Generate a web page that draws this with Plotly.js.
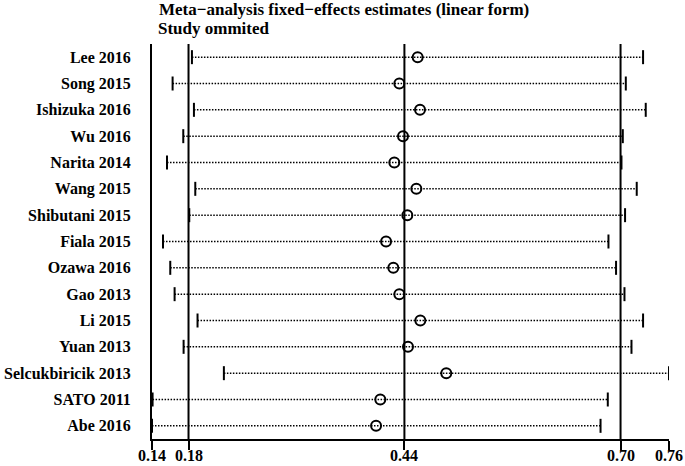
<!DOCTYPE html>
<html>
<head>
<meta charset="utf-8">
<script src="https://cdn.plot.ly/plotly-3.0.1.min.js"></script>
<style>
  html, body { margin: 0; padding: 0; background: #fff; }
  #chart { width: 685px; height: 466px; }
</style>
</head>
<body>
<div id="chart"></div>
<script>
// Study omitted in each row
const studies = ["Lee 2016", "Song 2015", "Ishizuka 2016", "Wu 2016", "Narita 2014",
  "Wang 2015", "Shibutani 2015", "Fiala 2015", "Ozawa 2016", "Gao 2013",
  "Li 2015", "Yuan 2013", "Selcukbiricik 2013", "SATO 2011", "Abe 2016"];

// pooled estimate and CI with that study left out
const estimate = [0.4586, 0.4366, 0.4614, 0.4410, 0.4306, 0.4570, 0.4462, 0.4207,
  0.4294, 0.4366, 0.4618, 0.4470, 0.4929, 0.4138, 0.4087];
const lower = [0.1879, 0.1647, 0.1903, 0.1775, 0.1580, 0.1919, 0.1847, 0.1532,
  0.1619, 0.1671, 0.1946, 0.1779, 0.2262, 0.1407, 0.1400];
const upper = [0.7289, 0.7082, 0.7321, 0.7046, 0.7030, 0.7213, 0.7073, 0.6874,
  0.6965, 0.7066, 0.7289, 0.7150, 0.7600, 0.6866, 0.6779];

// x axis ticks and the overall estimate / CI reference lines
const tickValues = [0.14, 0.1838, 0.4427, 0.7019, 0.76];
const tickLabels = ["0.14", "0.18", "0.44", "0.70", "0.76"];
const refLines = [0.1838, 0.4427, 0.7019];

const serif = "Liberation Serif, Times New Roman, serif";
const bold = (size) => ({ family: serif, size: size, color: "#000", weight: 700 });

// dotted CI lines, separated by nulls
const lineX = [], lineY = [];
studies.forEach((s, i) => {
  lineX.push(lower[i], upper[i], null);
  lineY.push(s, s, null);
});

const plotData = [
  {
    x: lineX, y: lineY,
    mode: "lines", type: "scatter",
    line: { color: "#000", width: 1.5, dash: "1.5px,1.5px" },
    hoverinfo: "skip"
  },
  {
    x: lower.concat(upper), y: studies.concat(studies),
    mode: "markers", type: "scatter",
    marker: { symbol: "line-ns", size: 10, color: "#000", line: { color: "#000", width: 2 } }
  },
  {
    x: estimate, y: studies,
    mode: "markers", type: "scatter",
    marker: { symbol: "circle-open", size: 10, color: "#000", line: { color: "#000", width: 2 } }
  }
];

const shapes = refLines.map(v => ({
  type: "line", xref: "x", yref: "paper",
  x0: v, x1: v, y0: 0, y1: 1,
  line: { color: "#000", width: 2 }
}));

// x tick labels drawn as annotations so they sit flush with the bottom edge
const tickNotes = tickValues.map((v, i) => ({
  text: tickLabels[i],
  xref: "x", yref: "paper", x: v, y: -0.068,
  xanchor: "center", yanchor: "bottom", showarrow: false,
  font: bold(16)
}));

const layout = {
  width: 685, height: 466,
  paper_bgcolor: "#fff", plot_bgcolor: "#fff",
  showlegend: false,
  margin: { l: 152, r: 16, t: 44, b: 27 },
  font: bold(16),
  annotations: [
    {
      text: "Meta\u2212analysis fixed\u2212effects estimates (linear form)",
      xref: "paper", yref: "paper", x: 0.372, y: 1.0873,
      xanchor: "center", yanchor: "middle", showarrow: false,
      borderpad: 0, font: bold(17)
    },
    {
      text: "Study ommited",
      xref: "paper", yref: "paper", x: 0.0097, y: 1.038,
      xanchor: "left", yanchor: "middle", showarrow: false,
      borderpad: 0, font: bold(17)
    }
  ].concat(tickNotes),
  xaxis: {
    range: [0.14, 0.76],
    tickvals: tickValues, showticklabels: false,
    ticks: "outside", ticklen: 9, tickwidth: 2, tickcolor: "#000",
    showline: true, linewidth: 2, linecolor: "#000",
    showgrid: false, zeroline: false
  },
  yaxis: {
    type: "category",
    categoryorder: "array", categoryarray: studies,
    range: [studies.length - 0.5, -0.5],
    showline: true, linewidth: 2, linecolor: "#000",
    ticks: "", showgrid: false, zeroline: false,
    ticklabelstandoff: 16,
    tickfont: bold(16)
  },
  shapes: shapes
};

Plotly.newPlot("chart", plotData, layout, { displayModeBar: false, staticPlot: true });
</script>
</body>
</html>
